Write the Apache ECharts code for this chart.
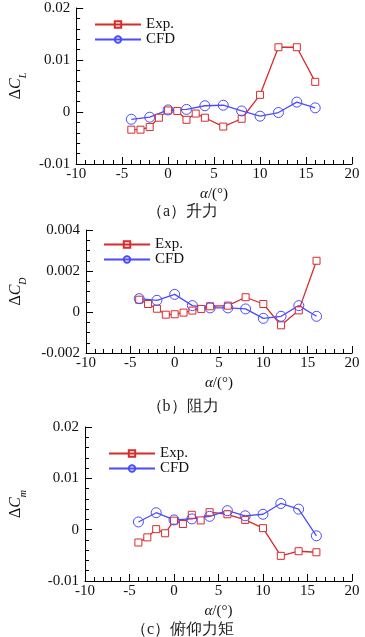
<!DOCTYPE html>
<html>
<head>
<meta charset="utf-8">
<script src="https://cdn.jsdelivr.net/npm/echarts@6/dist/echarts.min.js"></script>
<style>
html, body { margin: 0; padding: 0; background: #fff; }
#chart { width: 365px; height: 637px; }
</style>
</head>
<body>
<div id="chart"></div>
<script>
// 攻角
var alphaExp = [-4, -3, -2, -1, 0, 1, 2, 3, 4, 6, 8, 10, 12, 14, 16];
var alphaCfd = [-4, -2, 0, 2, 4, 6, 8, 10, 12, 14, 16];

// (a) 升力
var liftExp = [-0.0034, -0.0034, -0.0029, -0.0011, 0.0003, 0.0002, -0.0015, -0.0003, -0.0011, -0.0028, -0.0013, 0.0033, 0.01245, 0.01245, 0.0058];
var liftCfd = [-0.0014, -0.001, 0.0004, 0.0005, 0.0012, 0.0013, 0.0002, -0.0008, -0.0001, 0.0019, 0.0008];

// (b) 阻力
var dragExp = [0.0006, 0.00039, 0.00016, -0.00013, -0.00011, -0.00003, 0.00007, 0.00015, 0.00028, 0.00031, 0.00072, 0.00039, -0.00065, 0.00008, 0.0025];
var dragCfd = [0.00065, 0.00057, 0.00086, 0.00031, 0.0002, 0.0002, 0.00015, -0.00031, -0.00021, 0.00031, -0.00021];

// (c) 俯仰力矩
var momentExp = [-0.0025, -0.0015, 0.0001, -0.0007, 0.00175, 0.0011, 0.0029, 0.0018, 0.0034, 0.003, 0.0019, 0.0003, -0.0051, -0.0042, -0.0044];
var momentCfd = [0.0015, 0.0033, 0.0019, 0.0021, 0.0026, 0.0037, 0.0027, 0.003, 0.0051, 0.004, -0.0012];

var captions = ['（a）升力', '（b）阻力', '（c）俯仰力矩'];
var yNames = ['L', 'D', 'm'];

var serif = '"Liberation Serif", "DejaVu Serif", serif';
var red = '#d92b2b';
var blue = '#4b4bff';

function pair(xs, ys) {
    var out = [];
    for (var i = 0; i < xs.length; i++) {
        out.push([xs[i], ys[i]]);
    }
    return out;
}

// 每个子图的位置
var grids = [
    {left: 63, right: 13, top: 8, height: 156},
    {left: 75, right: 13, top: 230, height: 123},
    {left: 74, right: 13, top: 427, height: 154}
];
var yRanges = [
    {min: -0.01, max: 0.02, interval: 0.01, minor: 5, digits: 3, gap: 48},
    {min: -0.002, max: 0.004, interval: 0.002, minor: 4, digits: 4, gap: 62},
    {min: -0.01, max: 0.02, interval: 0.01, minor: 5, digits: 3, gap: 61}
];
var legendPos = [
    {left: 89, top: 12},
    {left: 98, top: 232},
    {left: 103, top: 441}
];
var captionTop = [199, 394, 617];
var dataSets = [[liftExp, liftCfd], [dragExp, dragCfd], [momentExp, momentCfd]];

var axisLine = {show: true, onZero: false, lineStyle: {color: '#000', width: 1}};

var option = {
    backgroundColor: '#fff',
    animation: false,
    grid: grids,
    title: [],
    legend: [],
    xAxis: [],
    yAxis: [],
    series: []
};

for (var k = 0; k < 3; k++) {
    option.title.push({
        text: captions[k],
        left: 'center',
        top: captionTop[k],
        textStyle: {fontFamily: serif, fontSize: 16, fontWeight: 'normal', color: '#222'}
    });
    option.legend.push({
        orient: 'vertical',
        left: legendPos[k].left,
        top: legendPos[k].top,
        itemWidth: 46,
        itemHeight: 8,
        itemGap: 0,
        textStyle: {fontFamily: serif, fontSize: 15, color: '#111', lineHeight: 14},
        data: [
            {name: 'Exp.' + k, itemStyle: {color: 'transparent', borderColor: red}},
            {name: 'CFD' + k, itemStyle: {color: 'transparent', borderColor: blue}}
        ],
        formatter: function (n) { return n.replace(/\d$/, ''); }
    });
    option.xAxis.push({
        type: 'value',
        gridIndex: k,
        min: -10,
        max: 20,
        interval: 5,
        name: '{i|α}{n|/(°)}',
        nameLocation: 'middle',
        nameGap: 23,
        nameTextStyle: {
            rich: {
                i: {fontFamily: serif, fontSize: 15, fontStyle: 'italic', color: '#111'},
                n: {fontFamily: serif, fontSize: 15, color: '#111'}
            }
        },
        axisLine: axisLine,
        axisTick: {show: true, inside: true, length: 7, lineStyle: {color: '#000'}},
        minorTick: {show: true, splitNumber: 5, length: 4, lineStyle: {color: '#000'}},
        splitLine: {show: false},
        axisLabel: {fontFamily: serif, fontSize: 15, color: '#111', margin: 3, showMinLabel: true, showMaxLabel: true}
    });
    (function (r) {
        option.yAxis.push({
            type: 'value',
            gridIndex: k,
            min: r.min,
            max: r.max,
            interval: r.interval,
            name: '{d|Δ}{c|C}{s|' + yNames[k] + '}',
            nameLocation: 'middle',
            nameRotate: 90,
            nameGap: r.gap,
            nameTextStyle: {
                rich: {
                    d: {fontFamily: serif, fontSize: 16, color: '#111', verticalAlign: 'bottom', lineHeight: 18},
                    c: {fontFamily: serif, fontSize: 16, fontStyle: 'italic', color: '#111', verticalAlign: 'bottom', lineHeight: 18},
                    s: {fontFamily: serif, fontSize: 10, fontStyle: 'italic', color: '#111', verticalAlign: 'bottom', lineHeight: 18, padding: [0, 0, -4, 0]}
                }
            },
            axisLine: axisLine,
            axisTick: {show: true, inside: true, length: 7, lineStyle: {color: '#000'}},
            minorTick: {show: true, splitNumber: r.minor, length: 4, lineStyle: {color: '#000'}},
            splitLine: {show: false},
            axisLabel: {
                fontFamily: serif, fontSize: 15, color: '#111', margin: 6,
                formatter: function (v) { return String(Number(v.toFixed(r.digits))); }
            }
        });
    })(yRanges[k]);
    option.series.push({
        name: 'Exp.' + k,
        type: 'line',
        xAxisIndex: k,
        yAxisIndex: k,
        data: pair(alphaExp, dataSets[k][0]),
        symbol: 'rect',
        symbolSize: 7,
        lineStyle: {color: red, width: 1.3},
        itemStyle: {color: '#fff', borderColor: red, borderWidth: 1},
        emphasis: {disabled: true}
    });
    option.series.push({
        name: 'CFD' + k,
        type: 'line',
        xAxisIndex: k,
        yAxisIndex: k,
        data: pair(alphaCfd, dataSets[k][1]),
        symbol: 'circle',
        symbolSize: 10,
        lineStyle: {color: blue, width: 1.3},
        itemStyle: {color: 'transparent', borderColor: blue, borderWidth: 1},
        emphasis: {disabled: true}
    });
}

var myChart = echarts.init(document.getElementById('chart'));
myChart.setOption(option);
</script>
</body>
</html>
